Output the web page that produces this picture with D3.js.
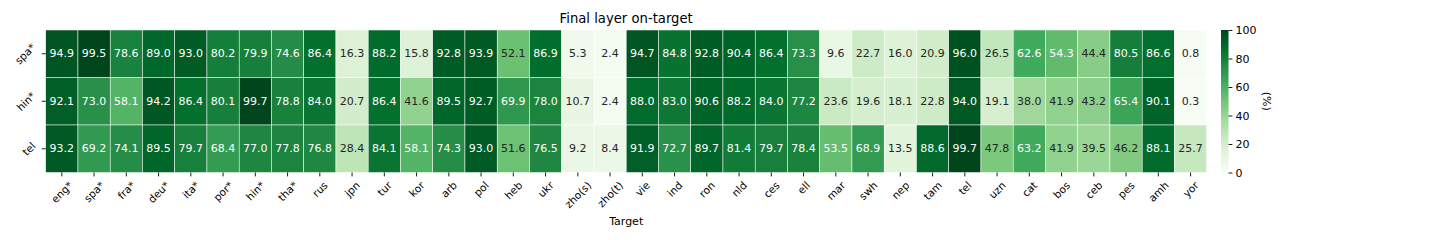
<!DOCTYPE html>
<html>
<head>
<meta charset="utf-8">
<script src="https://cdn.jsdelivr.net/npm/d3@7"></script>
<style>
  body { margin: 0; background: #fff; }
  svg text { font-family: "DejaVu Sans", sans-serif; }
</style>
</head>
<body>
<div id="chart"></div>
<script>
// rows (source) and columns (target)
const sources = ["spa*", "hin*", "tel"];
const targets = ["eng*", "spa*", "fra*", "deu*", "ita*", "por*", "hin*", "tha*", "rus", "jpn",
  "tur", "kor", "arb", "pol", "heb", "ukr", "zho(s)", "zho(t)", "vie", "ind", "ron", "nld",
  "ces", "ell", "mar", "swh", "nep", "tam", "tel", "uzn", "cat", "bos", "ceb", "pes", "amh", "yor"];

const spaValues = [94.9, 99.5, 78.6, 89.0, 93.0, 80.2, 79.9, 74.6, 86.4, 16.3, 88.2, 15.8, 92.8, 93.9,
  52.1, 86.9, 5.3, 2.4, 94.7, 84.8, 92.8, 90.4, 86.4, 73.3, 9.6, 22.7, 16.0, 20.9, 96.0, 26.5,
  62.6, 54.3, 44.4, 80.5, 86.6, 0.8];
const hinValues = [92.1, 73.0, 58.1, 94.2, 86.4, 80.1, 99.7, 78.8, 84.0, 20.7, 86.4, 41.6, 89.5, 92.7,
  69.9, 78.0, 10.7, 2.4, 88.0, 83.0, 90.6, 88.2, 84.0, 77.2, 23.6, 19.6, 18.1, 22.8, 94.0, 19.1,
  38.0, 41.9, 43.2, 65.4, 90.1, 0.3];
const telValues = [93.2, 69.2, 74.1, 89.5, 79.7, 68.4, 77.0, 77.8, 76.8, 28.4, 84.1, 58.1, 74.3, 93.0,
  51.6, 76.5, 9.2, 8.4, 91.9, 72.7, 89.7, 81.4, 79.7, 78.4, 53.5, 68.9, 13.5, 88.6, 99.7, 47.8,
  63.2, 41.9, 39.5, 46.2, 88.1, 25.7];
const rowValues = [spaValues, hinValues, telValues];

const cbarTicks = [0, 20, 40, 60, 80, 100];

// matplotlib "Greens"
const greens = ["#f7fcf5", "#e5f5e0", "#c7e9c0", "#a1d99b", "#74c476", "#41ab5d", "#238b45", "#006d2c", "#00441b"];

const width = 1440, height = 240;
const mLeft = 45.7, mRight = 1206.7, mTop = 30, mBottom = 172.5;

const svg = d3.select("#chart").append("svg")
  .attr("width", width)
  .attr("height", height);

const x = d3.scaleBand().domain(targets).range([mLeft, mRight]);
const y = d3.scaleBand().domain(sources).range([mTop, mBottom]);
const color = d3.scaleLinear()
  .domain(greens.map((d, i) => i * 100 / (greens.length - 1)))
  .range(greens)
  .interpolate(d3.interpolateRgb)
  .clamp(true);

// seaborn picks text colour from cell luminance
function luminance(c) {
  const rgb = d3.rgb(c);
  const lin = [rgb.r, rgb.g, rgb.b].map(v => {
    v = v / 255;
    return v <= 0.03928 ? v / 12.92 : Math.pow((v + 0.055) / 1.055, 2.4);
  });
  return 0.2126 * lin[0] + 0.7152 * lin[1] + 0.0722 * lin[2];
}

const cells = [];
sources.forEach((s, i) => {
  targets.forEach((t, j) => {
    cells.push({ source: s, target: t, value: rowValues[i][j] });
  });
});

const g = svg.append("g");
g.selectAll("rect")
  .data(cells)
  .enter()
  .append("rect")
  .attr("x", d => x(d.target))
  .attr("y", d => y(d.source))
  .attr("width", x.bandwidth())
  .attr("height", y.bandwidth())
  .attr("fill", d => color(d.value))
  .attr("stroke", "#fff")
  .attr("stroke-width", 0.5);

g.selectAll("text.annot")
  .data(cells)
  .enter()
  .append("text")
  .attr("class", "annot")
  .attr("x", d => x(d.target) + x.bandwidth() / 2)
  .attr("y", d => y(d.source) + y.bandwidth() / 2)
  .attr("text-anchor", "middle")
  .attr("dominant-baseline", "central")
  .attr("font-size", 11)
  .attr("fill", d => luminance(color(d.value)) > 0.408 ? "#262626" : "#fff")
  .text(d => d.value.toFixed(1));

// x ticks
const tickFont = 10.5;
const xt = svg.append("g");
xt.selectAll("line")
  .data(targets)
  .enter()
  .append("line")
  .attr("x1", d => x(d) + x.bandwidth() / 2)
  .attr("x2", d => x(d) + x.bandwidth() / 2)
  .attr("y1", mBottom)
  .attr("y2", mBottom + 3.9)
  .attr("stroke", "#000")
  .attr("stroke-width", 0.9);

// rotated labels: place so the bounding box lines up like matplotlib
xt.selectAll("text")
  .data(targets)
  .enter()
  .append("text")
  .attr("text-anchor", "middle")
  .attr("dominant-baseline", "central")
  .attr("font-size", tickFont)
  .text(d => d)
  .attr("transform", function (d) {
    const L = this.getComputedTextLength();
    const half = (L + tickFont) / (2 * Math.SQRT2);
    return `translate(${x(d) + x.bandwidth() / 2},${mBottom + 7 + half}) rotate(-45)`;
  });

const yt = svg.append("g");
yt.selectAll("line")
  .data(sources)
  .enter()
  .append("line")
  .attr("x1", mLeft - 3.9)
  .attr("x2", mLeft)
  .attr("y1", d => y(d) + y.bandwidth() / 2)
  .attr("y2", d => y(d) + y.bandwidth() / 2)
  .attr("stroke", "#000")
  .attr("stroke-width", 0.9);

yt.selectAll("text")
  .data(sources)
  .enter()
  .append("text")
  .attr("text-anchor", "middle")
  .attr("dominant-baseline", "central")
  .attr("font-size", tickFont)
  .text(d => d)
  .attr("transform", function (d) {
    const L = this.getComputedTextLength();
    const half = (L + tickFont) / (2 * Math.SQRT2);
    return `translate(${mLeft - 8.5 - half},${y(d) + y.bandwidth() / 2}) rotate(-45)`;
  });

// title and axis label
svg.append("text")
  .attr("x", (mLeft + mRight) / 2)
  .attr("y", 18)
  .attr("text-anchor", "middle")
  .attr("dominant-baseline", "central")
  .attr("font-size", 13.2)
  .text("Final layer on-target");

svg.append("text")
  .attr("x", (mLeft + mRight) / 2)
  .attr("y", 221)
  .attr("text-anchor", "middle")
  .attr("dominant-baseline", "central")
  .attr("font-size", 11)
  .text("Target");

// colorbar
const cbX = 1221, cbW = 7.5;
const cbScale = d3.scaleLinear().domain([0, 100]).range([mBottom, mTop]);

const grad = svg.append("defs").append("linearGradient")
  .attr("id", "cbar")
  .attr("x1", 0).attr("y1", 1)
  .attr("x2", 0).attr("y2", 0);
grad.selectAll("stop")
  .data(greens)
  .enter()
  .append("stop")
  .attr("offset", (d, i) => i / (greens.length - 1))
  .attr("stop-color", d => d);

svg.append("rect")
  .attr("x", cbX)
  .attr("y", mTop)
  .attr("width", cbW)
  .attr("height", mBottom - mTop)
  .attr("fill", "url(#cbar)");

const cbAxis = svg.append("g")
  .attr("transform", `translate(${cbX + cbW},0)`)
  .call(d3.axisRight(cbScale).tickValues(cbarTicks).tickSize(3.9).tickPadding(3));
cbAxis.select(".domain").remove();
cbAxis.selectAll(".tick line").attr("stroke", "#000").attr("stroke-width", 0.9);
cbAxis.selectAll(".tick text")
  .attr("font-size", 11)
  .attr("font-family", "DejaVu Sans, sans-serif")
  .attr("fill", "#000");

svg.append("text")
  .attr("transform", `translate(1266,${(mTop + mBottom) / 2}) rotate(90)`)
  .attr("text-anchor", "middle")
  .attr("dominant-baseline", "central")
  .attr("font-size", 11)
  .text("(%)");
</script>
</body>
</html>
